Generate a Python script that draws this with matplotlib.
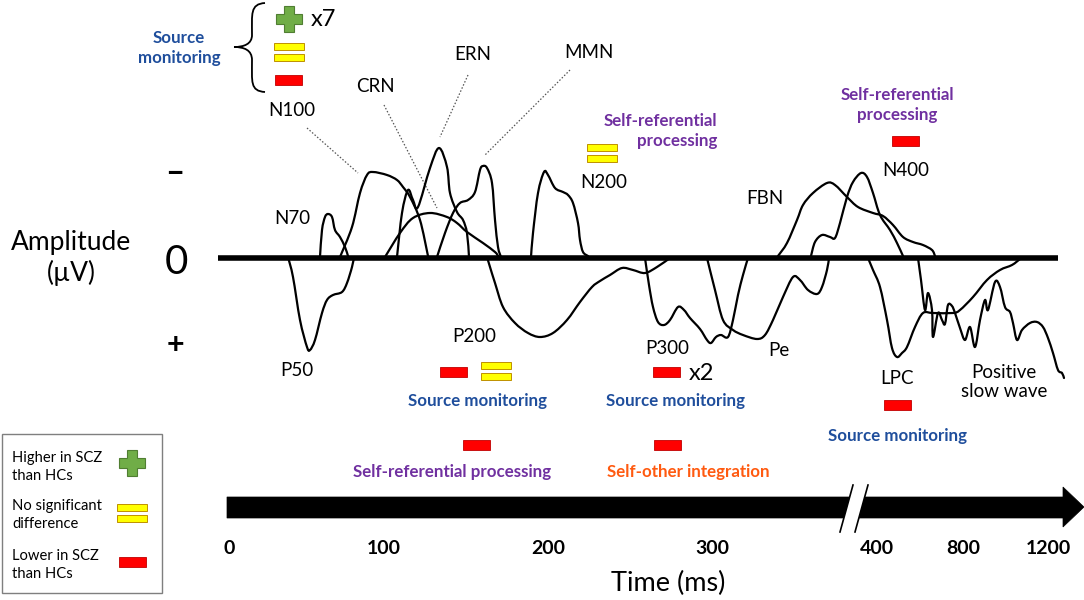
import numpy as np
import matplotlib
matplotlib.use("Agg")
import matplotlib.pyplot as plt
from matplotlib.path import Path
from matplotlib.patches import PathPatch, Polygon, Rectangle

plt.rcParams['font.family'] = ['Lato', 'DejaVu Sans']

# ---------------- data (canvas units: x to the right, y downward, zero line at 258) ----------------
ZERO_Y = 258
P50_x = [288, 293, 300, 307, 310, 315, 322, 327, 333, 342, 347, 352, 354]
P50_y = [257, 277, 320, 347, 350, 340, 313, 300, 295, 292, 283, 267, 257]
N70_x = [320, 322, 325, 328, 332, 335, 340, 345, 348]
N70_y = [257, 230, 217, 214, 217, 230, 237, 247, 256]
N100_x = [340, 352, 360, 367, 373, 387, 397, 403, 410, 420, 428]
N100_y = [257, 227, 193, 175, 172, 175, 180, 187, 197, 220, 256]
ERN_x = [397, 402, 408, 413, 418, 430, 439, 447, 450, 457, 463, 467, 469]
ERN_y = [257, 213, 190, 200, 207, 168, 148, 167, 193, 212, 220, 233, 257]
CRN_x = [385, 400, 413, 430, 447, 457, 467, 483, 495, 498]
CRN_y = [257, 233, 218, 213, 217, 223, 232, 243, 252, 256]
MMN_x = [437, 445, 453, 460, 468, 475, 480, 483, 487, 492, 495, 498, 501]
MMN_y = [257, 233, 213, 203, 200, 192, 170, 166, 168, 183, 220, 247, 257]
N200_x = [531, 533, 538, 544, 548, 555, 563, 568, 573, 578, 580, 583, 588]
N200_y = [257, 233, 193, 172, 175, 188, 192, 195, 203, 223, 240, 252, 256]
P200_x = [487, 490, 495, 503, 515, 528, 540, 553, 567, 580, 592, 600, 610, 622, 633, 645, 657, 670]
P200_y = [257, 267, 283, 307, 323, 333, 337, 333, 320, 302, 287, 281, 275, 268, 270, 273, 267, 258]
P300_x = [645, 649, 653, 658, 664, 670, 678, 684, 690, 700, 707, 711, 716, 721, 728, 733, 738, 743, 748]
P300_y = [258, 285, 307, 322, 325, 320, 307, 310, 318, 329, 340, 343, 337, 335, 337, 320, 295, 275, 258]
Pe_x = [707, 715, 723, 733, 743, 757, 765, 773, 783, 793, 800, 808, 817, 822, 827, 829]
Pe_y = [258, 290, 320, 330, 335, 339, 335, 320, 297, 277, 280, 290, 294, 287, 270, 258]
FBN_x = [778, 787, 797, 803, 813, 827, 835, 847, 858, 873, 883, 893, 903, 913, 923, 932, 935]
FBN_y = [256, 243, 220, 205, 193, 183, 185, 197, 207, 213, 216, 225, 237, 242, 245, 250, 256]
N400_x = [811, 815, 822, 830, 835, 840, 847, 853, 861, 867, 873, 880, 890, 897, 903]
N400_y = [256, 242, 235, 237, 238, 223, 197, 182, 173, 177, 193, 215, 230, 243, 256]
LPC_x = [868, 873, 880, 887, 892, 897, 902, 907, 915, 923, 933, 953, 960, 973, 987, 1000, 1012, 1020]
LPC_y = [258, 270, 287, 320, 348, 357, 353, 347, 327, 313, 313, 313, 310, 297, 280, 270, 265, 259]
PSW_x = [918, 921, 925, 928, 932, 933, 938, 942, 945, 948, 952, 955, 960, 965, 970, 975, 980, 985,
         988, 995, 1000, 1005, 1010, 1013, 1017, 1022, 1030, 1037, 1043, 1048, 1053, 1058, 1062, 1064]
PSW_y = [258, 280, 310, 293, 310, 337, 313, 320, 324, 305, 306, 313, 328, 340, 327, 347, 320, 300,
         310, 282, 287, 307, 312, 323, 340, 330, 323, 322, 327, 338, 353, 370, 373, 378]

waves = [(P50_x, P50_y), (N70_x, N70_y), (N100_x, N100_y), (ERN_x, ERN_y), (CRN_x, CRN_y),
         (MMN_x, MMN_y), (N200_x, N200_y), (P200_x, P200_y), (P300_x, P300_y), (Pe_x, Pe_y),
         (FBN_x, FBN_y), (N400_x, N400_y), (LPC_x, LPC_y), (PSW_x, PSW_y)]

# component labels
comp_labels = ["N100", "CRN", "ERN", "MMN", "N70", "P50", "P200", "N200", "FBN", "N400",
               "P300", "Pe", "LPC", "Positive\nslow wave"]
comp_x = [292, 375, 473, 589, 292, 297, 474, 604, 765, 906, 667, 779, 897, 1004]
comp_y = [111, 87, 55, 52, 219, 370, 337, 183, 199, 171, 349, 350, 379, 382]

# dotted pointer lines (from label to peak)
ptr_x0 = [307, 384, 468, 570]
ptr_y0 = [128, 105, 75, 70]
ptr_x1 = [358, 437, 440, 485]
ptr_y1 = [173, 208, 137, 155]

# time axis
tick_labels = ["0", "100", "200", "300", "400", "800", "1200"]
tick_x = [229, 384, 548, 712, 877, 963, 1048]

# result markers: x center, y center
red_x = [288, 905, 666, 453, 897, 476, 667, 132]
red_y = [80, 141, 372, 372, 405, 445, 445, 562]
yellow_x = [289, 602, 496, 132]
yellow_y = [52, 153, 371, 513]
plus_x = [289, 132]
plus_y = [19, 463]

# coloured function labels
fn_text = ["Source\nmonitoring", "Self-referential\nprocessing", "Self-referential\nprocessing",
           "Source monitoring", "Source monitoring", "Source monitoring",
           "Self-referential processing", "Self-other integration"]
fn_x = [179, 717, 897, 478, 675, 897, 452, 688]
fn_y = [48, 131, 105, 401, 401, 436, 472, 472]
fn_ha = ["center", "right", "center", "center", "center", "center", "center", "center"]
fn_col = ["#1F4E9C", "#7030A0", "#7030A0", "#1F4E9C", "#1F4E9C", "#1F4E9C", "#7030A0", "#FF5A10"]

legend_text = ["Higher in SCZ\nthan HCs", "No significant\ndifference", "Lower in SCZ\nthan HCs"]
legend_y = [467, 515, 565]

# ---------------- drawing ----------------
fig = plt.figure(figsize=(10.84, 6.0), dpi=100)
ax = fig.add_axes([0, 0, 1, 1])
ax.set_xlim(0, 1084)
ax.set_ylim(600, 0)
ax.axis("off")


def smooth_path(xs, ys):
    pts = np.column_stack([xs, ys]).astype(float)
    n = len(pts)
    verts = [pts[0]]
    codes = [Path.MOVETO]
    for i in range(n - 1):
        p0 = pts[i - 1] if i > 0 else pts[i]
        p1 = pts[i]
        p2 = pts[i + 1]
        p3 = pts[i + 2] if i + 2 < n else pts[i + 1]
        verts += [p1 + (p2 - p0) / 6.0, p2 - (p3 - p1) / 6.0, p2]
        codes += [Path.CURVE4] * 3
    return Path(verts, codes)


for xs, ys in waves:
    ax.add_patch(PathPatch(smooth_path(xs, ys), fill=False, lw=1.6, ec="black",
                           capstyle="round", joinstyle="round", zorder=3))

# zero line
ax.plot([218, 1058], [ZERO_Y, ZERO_Y], color="black", lw=4.0, solid_capstyle="butt", zorder=4)

# pointer lines
for a, b, c, d in zip(ptr_x0, ptr_y0, ptr_x1, ptr_y1):
    ax.plot([a, c], [b, d], color="#555555", lw=0.9, ls=(0, (1.2, 1.5)), zorder=2)

# component labels
for t, x, y in zip(comp_labels, comp_x, comp_y):
    ax.text(x, y, t, ha="center", va="center", fontsize=13.5, color="black",
            linespacing=1.15)

# amplitude axis labels
ax.text(71, 258, "Amplitude\n(\u00b5V)", ha="center", va="center", fontsize=19, linespacing=1.2)
ax.text(176, 262, "0", ha="center", va="center", fontsize=29)
ax.text(175, 172, "\u2013", ha="center", va="center", fontsize=24, fontweight="bold")
ax.text(175, 345, "+", ha="center", va="center", fontsize=22, fontweight="bold")

# function labels
for t, x, y, ha, c in zip(fn_text, fn_x, fn_y, fn_ha, fn_col):
    ax.text(x, y, t, ha=ha, va="center", fontsize=12.2, fontweight="bold", color=c,
            linespacing=1.3, multialignment=ha if ha != "center" else "center")

# markers
def red_bar(x, y):
    ax.add_patch(Rectangle((x - 13.5, y - 5), 27, 10, fc="#FF0000", ec="#C00000", lw=0.6, zorder=5))


def yellow_eq(x, y):
    for dy in (-5.5, 5.5):
        ax.add_patch(Rectangle((x - 15, y + dy - 3.2), 30, 6.4, fc="#FFFF00", ec="#BF9000",
                               lw=0.7, zorder=5))


def plus(x, y):
    h, w = 13, 5
    pts = [(x - w, y - h), (x + w, y - h), (x + w, y - w), (x + h, y - w), (x + h, y + w),
           (x + w, y + w), (x + w, y + h), (x - w, y + h), (x - w, y + w), (x - h, y + w),
           (x - h, y - w), (x - w, y - w)]
    ax.add_patch(Polygon(pts, closed=True, fc="#70AD47", ec="#507E32", lw=0.8, zorder=5))


for x, y in zip(red_x, red_y):
    red_bar(x, y)
for x, y in zip(yellow_x, yellow_y):
    yellow_eq(x, y)
for x, y in zip(plus_x, plus_y):
    plus(x, y)

ax.text(311, 20, "x7", ha="left", va="center", fontsize=17)
ax.text(689, 374, "x2", ha="left", va="center", fontsize=17)

# curly brace
brace = Path([(265, 3), (250, 4), (252, 14), (252, 35), (252, 44), (244, 47), (234, 47),
              (244, 47), (252, 50), (252, 60), (252, 82), (250, 91), (265, 92)],
             [Path.MOVETO, Path.CURVE4, Path.CURVE4, Path.CURVE4, Path.CURVE4, Path.CURVE4,
              Path.CURVE4, Path.CURVE4, Path.CURVE4, Path.CURVE4, Path.CURVE4, Path.CURVE4,
              Path.CURVE4])
ax.add_patch(PathPatch(brace, fill=False, lw=1.3, ec="black"))

# time arrow
arrow = [(227, 497), (1063, 497), (1063, 487), (1084, 507), (1063, 527), (1063, 518), (227, 518)]
ax.add_patch(Polygon(arrow, closed=True, fc="black", ec="black", lw=0.5, zorder=3))
# axis break
ax.add_patch(Polygon([(840, 532), (853, 485), (868, 485), (855, 532)], closed=True,
                     fc="white", ec="none", zorder=4))
ax.plot([840, 853], [532, 485], color="black", lw=1.2, zorder=5)
ax.plot([855, 868], [532, 485], color="black", lw=1.2, zorder=5)

for t, x in zip(tick_labels, tick_x):
    ax.text(x, 548, t, ha="center", va="center", fontsize=14, fontweight="bold")
ax.text(668, 583, "Time (ms)", ha="center", va="center", fontsize=19.5)

# legend box
ax.add_patch(Rectangle((2, 434), 160, 159, fc="white", ec="#7F7F7F", lw=1.0, zorder=1))
for t, y in zip(legend_text, legend_y):
    ax.text(12, y, t, ha="left", va="center", fontsize=10.6, linespacing=1.4)

fig.savefig("out.png", dpi=100)
